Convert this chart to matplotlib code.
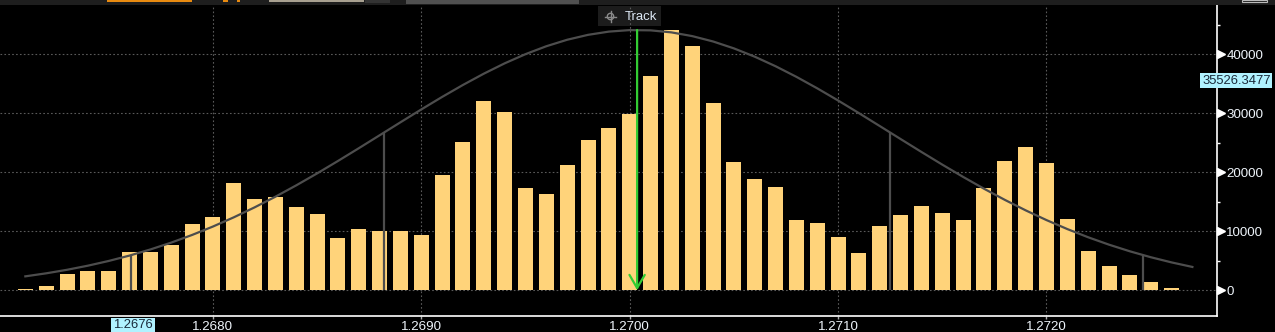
import matplotlib
matplotlib.use("Agg")
import matplotlib.pyplot as plt
from matplotlib.patches import Rectangle, Circle
from matplotlib.transforms import offset_copy
from matplotlib.ticker import NullLocator

plt.rcParams['font.family'] = ['Liberation Sans', 'DejaVu Sans']

# ---------------- data ----------------
first_price = 1.2671
bin_step = 0.0001
counts = [200, 780, 2810, 3270, 3270, 6490, 6490, 7680, 11240, 12420,
          18190, 15470, 15810, 14120, 12930, 8860, 10390, 10050, 10050, 9370,
          19540, 25130, 32080, 30220, 17340, 16320, 21240, 25470, 27510, 29880,
          36320, 44120, 41410, 31750, 21750, 18860, 17510, 11920, 11410, 9030,
          6320, 10900, 12760, 14290, 13100, 11920, 17340, 21920, 24290, 21580,
          12080, 6660, 4120, 2590, 1410, 390, 100]
curve = [2365, 2877, 3476, 4172, 4973, 5887, 6922, 8084, 9379, 10805,
         12365, 14055, 15866, 17789, 19812, 21916, 24078, 26274, 28476, 30655,
         32777, 34808, 36716, 38466, 40026, 41368, 42466, 43297, 43846, 44101,
         44058, 43716, 43084, 42174, 41003, 39595, 37977, 36178, 34231, 32169,
         30027, 27838, 25635, 23446, 21298, 19216, 17220, 15328, 13551, 11899,
         10377, 8988, 7734, 6610, 5610, 4729, 3959]
prices = [round(first_price + bin_step * i, 4) for i in range(len(counts))]

mean_price = 1.2700355
mean_top = 44120
sigma_x = [1.267608, 1.268822, 1.271249, 1.272463]
sigma_h = [5970, 26760, 26760, 5970]

x_ticks = [1.2680, 1.2690, 1.2700, 1.2710, 1.2720]
x_tick_labels = ["1.2680", "1.2690", "1.2700", "1.2710", "1.2720"]
y_ticks = [0, 10000, 20000, 30000, 40000]
y_tick_labels = ["0", "10000", "20000", "30000", "40000"]
y_minor = [5000, 15000, 25000, 35000, 45000]
value_label = 35526.3477
cursor_label = "1.2676"

# ---------------- figure ----------------
W, H = 1275, 332
fig = plt.figure(figsize=(W / 100, H / 100), dpi=100, facecolor='black')

# background pixel-space axes (below main)
bg = fig.add_axes([0, 0, 1, 1], zorder=0)
bg.set_xlim(0, W); bg.set_ylim(H, 0); bg.axis('off')
bg.set_facecolor('black')
bg.add_patch(Rectangle((598, 6), 63, 20, fc='#1c1c1c', ec='none'))
bg.add_patch(Circle((610.5, 16.5), 3.2, fc='none', ec='#8a8a8a', lw=1))
bg.plot([605, 616], [16.5, 16.5], color='#8a8a8a', lw=1)
bg.plot([610.5, 610.5], [11, 22], color='#8a8a8a', lw=1)
bg.text(625, 16.5, "Track", color='#dde8f5', fontsize=9.5, ha='left', va='center')

# main axes
ax_left, ax_right = 0.0, 1216.7 / W
ax_bottom, ax_top = 1 - 316 / H, 1 - 5 / H
ax = fig.add_axes([ax_left, ax_bottom, ax_right - ax_left, ax_top - ax_bottom], zorder=1)
ax.set_facecolor('none')
ax.set_xlim(1.2669784, 1.2728167)
ax.set_ylim(-4356, 48356)

for s in ['left', 'top']:
    ax.spines[s].set_visible(False)
for s in ['right', 'bottom']:
    ax.spines[s].set_color('white')
    ax.spines[s].set_linewidth(1.2)

ax.yaxis.tick_right()
ax.set_yticks(y_ticks)
ax.set_yticklabels(y_tick_labels)
ax.set_yticks(y_minor, minor=True)
ax.tick_params(axis='y', which='major', length=0, pad=7, labelcolor='#eef4fa', labelsize=9.6)
ax.tick_params(axis='y', which='minor', length=2.5, width=1, color='white', direction='out')

ax.set_xticks(x_ticks)
ax.set_xticklabels(x_tick_labels)
ax.xaxis.set_minor_locator(NullLocator())
ax.tick_params(axis='x', which='major', length=2, width=1, color='#aaaaaa', pad=1.5,
               labelcolor='#eef4fa', labelsize=9.6)

ax.set_axisbelow(True)
ax.grid(True, which='major', color='#5a5a5a', linestyle=(0, (1.5, 2)), lw=0.8)

# triangles for major y ticks
tri_t = offset_copy(ax.get_yaxis_transform(), fig=fig, x=4.5, y=0, units='dots')
ax.plot([1.0] * len(y_ticks), y_ticks, marker='>', ls='none', ms=5.5, color='white',
        transform=tri_t, clip_on=False, zorder=6)

ax.bar(prices, counts, width=0.000072, color='#FFD37A', zorder=2)
ax.plot(prices, curve, color='#4d4d4d', lw=1.6, zorder=3)
ax.vlines(sigma_x, 0, sigma_h, color='#4d4d4d', lw=1.6, zorder=3)
ax.annotate('', xy=(mean_price, 0), xytext=(mean_price, mean_top),
            arrowprops=dict(arrowstyle='->,head_length=0.95,head_width=0.55',
                            color='#33cc33', lw=1.6, shrinkA=0, shrinkB=0), zorder=4)

ax.text(1202 / 1216.7, value_label, f"{value_label:.4f}", transform=ax.get_yaxis_transform(),
        ha='left', va='center', fontsize=9.4, color='#1a2a3a', clip_on=False, zorder=7,
        bbox=dict(boxstyle='square,pad=0.12', fc='#b0f2ff', ec='none'))

# overlay pixel-space axes (top UI strip, cursor label)
ov = fig.add_axes([0, 0, 1, 1], zorder=2)
ov.set_xlim(0, W); ov.set_ylim(H, 0); ov.axis('off')
ov.set_facecolor('none')
ov.patch.set_alpha(0)
ov.add_patch(Rectangle((0, 0), W, 5, fc='#1e1e1e', ec='none'))
ov.add_patch(Rectangle((107, 0), 85, 2.2, fc='#e88a10', ec='none'))
ov.add_patch(Rectangle((223, 0), 5, 1.5, fc='#e88a10', ec='none'))
ov.add_patch(Rectangle((237, 0), 3, 1.5, fc='#e88a10', ec='none'))
ov.add_patch(Rectangle((269, 0), 95, 2.2, fc='#a8a090', ec='none'))
ov.add_patch(Rectangle((365, 0), 25, 2.8, fc='#333333', ec='none'))
ov.add_patch(Rectangle((406, 0), 173, 4, fc='#505050', ec='none'))
ov.add_patch(Rectangle((1242, 0), 25, 2.2, fc='none', ec='#bbbbbb', lw=0.8))
ov.text(133, 319.5, cursor_label, ha='center', va='top', fontsize=9.4, color='#1a2a3a',
        bbox=dict(boxstyle='square,pad=0.15', fc='#b0f2ff', ec='none'))

fig.savefig("out.png", dpi=100, facecolor='black')
